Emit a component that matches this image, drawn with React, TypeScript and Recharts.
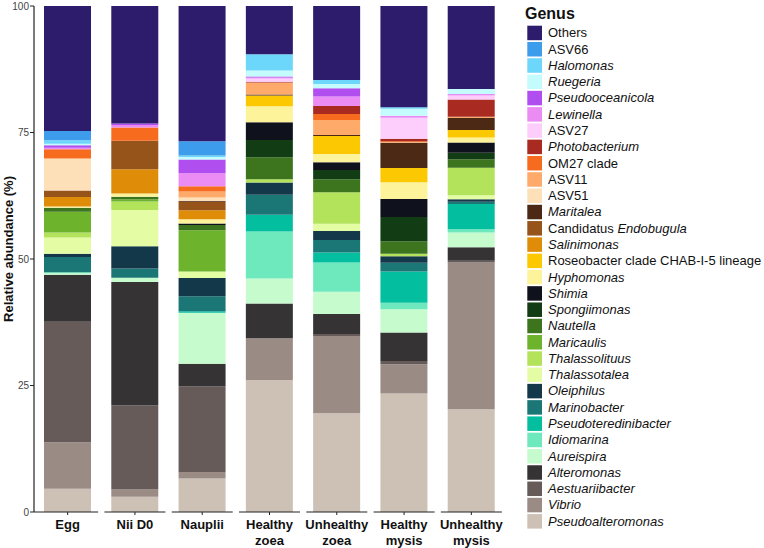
import { BarChart, Bar, XAxis, YAxis, Label } from "recharts";

const FONT = '"Liberation Sans", Arial, sans-serif';

const stages = ["Egg", "Nii D0", "Nauplii", "Healthy zoea", "Unhealthy zoea", "Healthy mysis", "Unhealthy mysis"];
const stageLines = [["Egg"], ["Nii D0"], ["Nauplii"], ["Healthy", "zoea"], ["Unhealthy", "zoea"], ["Healthy", "mysis"], ["Unhealthy", "mysis"]];

// legend order, top of the stack first
const genera = [
  "Others", "ASV66", "Halomonas", "Ruegeria", "Pseudooceanicola", "Lewinella", "ASV27",
  "Photobacterium", "OM27 clade", "ASV11", "ASV51", "Maritalea", "Candidatus Endobugula",
  "Salinimonas", "Roseobacter clade CHAB-I-5 lineage", "Hyphomonas", "Shimia", "Spongiimonas",
  "Nautella", "Maricaulis", "Thalassolituus", "Thalassotalea", "Oleiphilus", "Marinobacter",
  "Pseudoteredinibacter", "Idiomarina", "Aureispira", "Alteromonas", "Aestuariibacter",
  "Vibrio", "Pseudoalteromonas",
];

const italic = [
  false, false, true, true, true, true, false,
  true, false, false, false, true, true,
  true, false, true, true, true,
  true, true, true, true, true, true,
  true, true, true, true, true,
  true, true,
];

const colors = [
  "#2d1b6c", "#3e9cec", "#6dd6fb", "#c4fbfd", "#b04ef0", "#eb8cf5", "#fdcdfb",
  "#a82a20", "#f76b1f", "#fdaa6a", "#fde0b8", "#4b2915", "#96531a",
  "#df8d08", "#fbc802", "#fdf39a", "#0f111d", "#123d14",
  "#3d751f", "#6db32b", "#b3e35a", "#e4fca4", "#13384a", "#1b7776",
  "#03bfa0", "#6de9bd", "#c6fccd", "#363334", "#665b59",
  "#9a8c84", "#cdc0b5",
];

// relative abundance (%) per stage, same order as genera
const egg = [24.7, 1.85, 0.65, 0.3, 0.5, 0.3, 0, 0, 1.85, 0, 6.3, 0, 1.3, 1.85, 0, 0.25, 0, 0, 0.8, 4.1, 1.0, 3.2, 0.65, 3.0, 0, 0.2, 0.3, 9.3, 23.8, 9.2, 4.6];
const niiD0 = [23.2, 0, 0, 0, 0.3, 0.5, 0, 0, 2.65, 0, 0, 0, 5.6, 4.8, 0, 0.65, 0, 0, 0.5, 0.45, 1.65, 7.2, 4.4, 1.8, 0, 0, 0.85, 24.4, 16.6, 1.45, 3.0];
const nauplii = [26.75, 2.8, 0.3, 0.5, 2.7, 2.55, 0, 0, 1.05, 1.2, 0.7, 0.15, 1.65, 1.8, 0, 0.85, 0.3, 0, 1.0, 8.15, 0, 1.3, 3.6, 3.0, 0.25, 0, 10.1, 4.5, 16.9, 1.3, 6.6];
const healthyZoea = [9.55, 0, 3.2, 1.2, 0.2, 0.2, 0.6, 0.15, 0, 2.4, 0, 0.2, 0, 0, 2.1, 3.15, 3.55, 3.4, 4.35, 0, 0.65, 0, 2.4, 3.95, 3.3, 9.3, 4.95, 6.85, 0, 8.25, 26.1];
const unhealthyZoea = [14.6, 0, 0.8, 0.85, 1.65, 1.85, 0, 1.6, 1.2, 2.95, 0, 0.2, 0, 0, 3.55, 1.65, 1.5, 1.85, 2.55, 0, 6.25, 1.4, 1.8, 2.45, 2.0, 5.75, 4.4, 3.95, 0.4, 15.3, 19.5];
const healthyMysis = [20.0, 0, 0.3, 1.4, 0, 0.4, 4.15, 0.5, 0.15, 0.15, 0, 4.95, 0, 0, 2.85, 3.3, 3.55, 4.8, 2.45, 0, 0.5, 0, 1.3, 1.7, 6.2, 1.3, 4.6, 5.6, 0.65, 5.8, 23.4];
const unhealthyMysis = [16.4, 0, 0, 1.0, 0, 0.3, 0.8, 3.4, 0, 0.25, 0, 2.35, 0, 0, 1.5, 1.0, 2.0, 1.3, 1.65, 0, 5.45, 0.8, 0.5, 0.45, 4.95, 0.65, 2.95, 2.65, 0.35, 29.0, 20.3];

const byStage = [egg, niiD0, nauplii, healthyZoea, unhealthyZoea, healthyMysis, unhealthyMysis];

const rows = stages.map((stage, i) => {
  const r: Record<string, any> = { stage, idx: i };
  genera.forEach((_, j) => { r[`g${j}`] = byStage[i][j]; });
  return r;
});

// bottom of the stack first
const stackOrder = genera.map((_, j) => j).reverse();

const StageTick = ({ x, y, payload, index }: any) => {
  const lines = stageLines[index] ?? [payload.value];
  const left = index === 0 ? x - 33.6 : x - 30.5;
  return (
    <g>
      <line x1={left} x2={x + 30.5} y1={y} y2={y} stroke="#222" strokeWidth={1.2} />
      <line x1={x} x2={x} y1={y} y2={y + 3} stroke="#222" strokeWidth={1} />
      {lines.map((t: string, k: number) => (
        <text key={k} x={x} y={y + 17 + k * 15.5} textAnchor="middle"
          style={{ fontFamily: FONT, fontSize: 13, fontWeight: 700, fill: "#111" }}>
          {t}
        </text>
      ))}
    </g>
  );
};

function GenusLegend() {
  const top = 25.7, step = 16.28;
  return (
    <svg width={245} height={548} style={{ position: "absolute", left: 519, top: 0 }}>
      <text x={6} y={18.5} style={{ fontFamily: FONT, fontSize: 16, fontWeight: 700, fill: "#111" }}>Genus</text>
      {genera.map((g, j) => {
        const y = top + j * step;
        return (
          <g key={g}>
            <rect x={8.3} y={y} width={14.7} height={14.5} fill={colors[j]} />
            <text x={29} y={y + 11.6} style={{ fontFamily: FONT, fontSize: 13, fill: "#111" }}>
              {g === "Candidatus Endobugula" ? (
                <>Candidatus <tspan fontStyle="italic">Endobugula</tspan></>
              ) : (
                <tspan fontStyle={italic[j] ? "italic" : "normal"}>{g}</tspan>
              )}
            </text>
          </g>
        );
      })}
    </svg>
  );
}

export default function App() {
  return (
    <div style={{ position: "absolute", left: 0, top: 0, width: 764, height: 548, background: "#fff" }}>
      <BarChart width={764} height={548} data={rows}
        margin={{ top: 6, right: 259, bottom: 0, left: 0 }}>
        <XAxis dataKey="stage" axisLine={false} tickLine={false} tickSize={0} tickMargin={0}
          height={36} interval={0} tick={<StageTick />} />
        <YAxis type="number" domain={[0, 100]} ticks={[0, 25, 50, 75, 100]} allowDataOverflow
          width={34} tickSize={4} tickMargin={1}
          axisLine={{ stroke: "#222", strokeWidth: 1.2 }} tickLine={{ stroke: "#222" }}
          tick={{ fontFamily: FONT, fontSize: 10, fill: "#444" }}>
          <Label content={() => (
            <text x={13} y={249} transform="rotate(-90 13 249)" textAnchor="middle"
              style={{ fontFamily: FONT, fontSize: 13, fontWeight: 700, fill: "#111" }}>
              Relative abundance (%)
            </text>
          )} />
        </YAxis>
        {stackOrder.map(j => (
          <Bar key={j} dataKey={`g${j}`} name={genera[j]} stackId="a" fill={colors[j]}
            barSize={47} isAnimationActive={false} />
        ))}
      </BarChart>
      <GenusLegend />
    </div>
  );
}
